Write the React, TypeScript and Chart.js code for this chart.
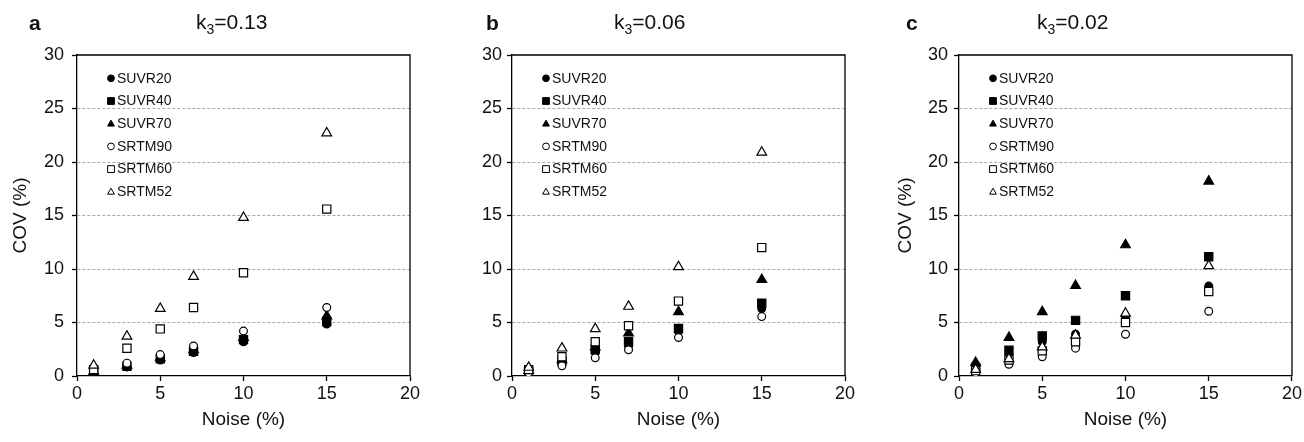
import React, { useEffect, useRef } from 'react';
import { Chart, registerables } from 'chart.js';

Chart.register(...registerables);

// ---------- data ----------
const noiseLevels = [1, 3, 5, 7, 10, 15];
const seriesNames = ['SUVR20', 'SUVR40', 'SUVR70', 'SRTM90', 'SRTM60', 'SRTM52'];
const xTicks = [0, 5, 10, 15, 20];
const yTicks = [0, 5, 10, 15, 20, 25, 30];

// panel a: k3 = 0.13
const a_SUVR20 = [0.3, 0.85, 1.5, 2.2, 3.2, 4.85];
const a_SUVR40 = [0.35, 0.9, 1.6, 2.3, 3.4, 5.1];
const a_SUVR70 = [0.4, 1.0, 1.7, 2.45, 3.6, 5.6];
const a_SRTM90 = [0.5, 1.2, 2.0, 2.8, 4.2, 6.4];
const a_SRTM60 = [0.6, 2.6, 4.4, 6.4, 9.65, 15.6];
const a_SRTM52 = [1.0, 3.7, 6.3, 9.3, 14.8, 22.7];

// panel b: k3 = 0.06
const b_SUVR20 = [0.35, 1.3, 2.2, 2.8, 4.15, 6.3];
const b_SUVR40 = [0.4, 1.4, 2.5, 3.2, 4.45, 6.8];
const b_SUVR70 = [0.5, 1.5, 2.7, 4.0, 6.0, 9.0];
const b_SRTM90 = [0.3, 0.95, 1.7, 2.45, 3.6, 5.55];
const b_SRTM60 = [0.6, 1.8, 3.2, 4.7, 7.0, 12.0];
const b_SRTM52 = [0.8, 2.6, 4.4, 6.5, 10.2, 20.9];

// panel c: k3 = 0.02
const c_SUVR20 = [0.4, 2.0, 3.2, 3.9, 5.5, 8.4];
const c_SUVR40 = [0.8, 2.4, 3.75, 5.2, 7.5, 11.15];
const c_SUVR70 = [1.25, 3.6, 6.0, 8.45, 12.25, 18.2];
const c_SRTM90 = [0.3, 1.1, 1.8, 2.6, 3.9, 6.05];
const c_SRTM60 = [0.5, 1.5, 2.35, 3.2, 5.0, 7.9];
const c_SRTM52 = [0.6, 1.6, 2.7, 3.8, 5.85, 10.3];

// ---------- styles ----------
const FONT = '"Liberation Sans", Arial, Helvetica, sans-serif';
const markerStyles = ['circle', 'rect', 'triangle', 'circle', 'rect', 'triangle'];
const markerFilled = [true, true, true, false, false, false];
const markerRadius: Record<string, number> = { circle: 3.9, rect: 5.8, triangle: 5.6 };

type Panel = {
  letter: string;
  k3: string;
  left: number;
  width: number;
  yAxisWidth: number;
  showYTitle: boolean;
  yTitlePad: number;
  tickPad: number;
  padRight: number;
  letterX: number;
  titleX: number;
  series: number[][];
};

const panels: Panel[] = [
  {
    letter: 'a', k3: '0.13', left: 0, width: 430, yAxisWidth: 77, showYTitle: true, yTitlePad: 9,
    tickPad: 8, padRight: 20, letterX: 29, titleX: 196,
    series: [a_SUVR20, a_SUVR40, a_SUVR70, a_SRTM90, a_SRTM60, a_SRTM52],
  },
  {
    letter: 'b', k3: '0.06', left: 430, width: 430, yAxisWidth: 82, showYTitle: false, yTitlePad: 0,
    tickPad: 5, padRight: 15, letterX: 56, titleX: 184,
    series: [b_SUVR20, b_SUVR40, b_SUVR70, b_SRTM90, b_SRTM60, b_SRTM52],
  },
  {
    letter: 'c', k3: '0.02', left: 860, width: 444, yAxisWidth: 99, showYTitle: true, yTitlePad: 34,
    tickPad: 6, padRight: 11, letterX: 46, titleX: 177,
    series: [c_SUVR20, c_SUVR40, c_SUVR70, c_SRTM90, c_SRTM60, c_SRTM52],
  },
];

function drawMarker(ctx: CanvasRenderingContext2D, style: string, filled: boolean, x: number, y: number, s: number) {
  ctx.save();
  ctx.beginPath();
  if (style === 'circle') {
    ctx.arc(x, y, s * 0.5, 0, Math.PI * 2);
  } else if (style === 'rect') {
    ctx.rect(x - s * 0.5, y - s * 0.5, s, s);
  } else {
    const h = s * 0.87;
    ctx.moveTo(x, y - h * 0.6);
    ctx.lineTo(x + s * 0.5, y + h * 0.4);
    ctx.lineTo(x - s * 0.5, y + h * 0.4);
    ctx.closePath();
  }
  ctx.fillStyle = filled ? '#000' : '#fff';
  ctx.fill();
  ctx.lineWidth = 1;
  ctx.strokeStyle = '#000';
  ctx.stroke();
  ctx.restore();
}

const decorPlugin = {
  id: 'decor',
  afterDraw(chart: any, _args: any, opts: any) {
    const ctx: CanvasRenderingContext2D = chart.ctx;
    const { left, top, right, bottom } = chart.chartArea;
    // top and right frame
    ctx.save();
    ctx.strokeStyle = '#000';
    ctx.lineWidth = 1.3;
    ctx.beginPath();
    ctx.moveTo(left, top);
    ctx.lineTo(right, top);
    ctx.lineTo(right, bottom);
    ctx.stroke();
    ctx.restore();

    // legend
    ctx.save();
    ctx.font = `14px ${FONT}`;
    ctx.fillStyle = '#111';
    ctx.textBaseline = 'middle';
    ctx.textAlign = 'left';
    seriesNames.forEach((name, i) => {
      const y = top + 23.3 + i * 22.7;
      drawMarker(ctx, markerStyles[i], markerFilled[i], left + 34, y, 6.8);
      ctx.fillText(name, left + 40, y + 0.5);
    });
    ctx.restore();

    // panel letter and title
    ctx.save();
    ctx.fillStyle = '#111';
    ctx.textBaseline = 'alphabetic';
    ctx.textAlign = 'left';
    ctx.font = `bold 21px ${FONT}`;
    ctx.fillText(opts.letter, opts.letterX, 30);
    let x = opts.titleX;
    ctx.font = `21px ${FONT}`;
    ctx.fillText('k', x, 29);
    x += ctx.measureText('k').width;
    ctx.font = `14px ${FONT}`;
    ctx.fillText('3', x, 34);
    x += ctx.measureText('3').width;
    ctx.font = `21px ${FONT}`;
    ctx.fillText('=' + opts.k3, x, 29);
    ctx.restore();
  },
};

function PanelChart({ p }: { p: Panel }) {
  const ref = useRef<HTMLCanvasElement | null>(null);
  useEffect(() => {
    if (!ref.current) return;
    const datasets = seriesNames.map((name, i) => ({
      label: name,
      data: noiseLevels.map((n, j) => ({ x: n, y: p.series[i][j] })),
      showLine: false,
      pointStyle: markerStyles[i],
      pointRadius: markerRadius[markerStyles[i]],
      pointHoverRadius: markerRadius[markerStyles[i]],
      pointBackgroundColor: markerFilled[i] ? '#000' : '#fff',
      pointBorderColor: '#000',
      pointBorderWidth: 1.2,
      order: seriesNames.length - i,
    }));
    const chart = new Chart(ref.current, {
      type: 'scatter',
      data: { datasets },
      plugins: [decorPlugin],
      options: {
        responsive: false,
        animation: false,
        layout: { padding: { left: 0, top: 55, right: p.padRight, bottom: 0 } },
        plugins: {
          legend: { display: false },
          tooltip: { enabled: false },
          decor: { letter: p.letter, k3: p.k3, letterX: p.letterX, titleX: p.titleX },
        } as any,
        scales: {
          x: {
            type: 'linear',
            min: 0,
            max: 20,
            afterFit: (s: any) => { s.height = 66; },
            afterBuildTicks: (s: any) => { s.ticks = xTicks.map((v) => ({ value: v })); },
            ticks: { color: '#111', font: { size: 18, family: FONT }, padding: 2, maxRotation: 0 },
            grid: {
              drawOnChartArea: false,
              drawTicks: true,
              tickLength: 5,
              tickColor: '#000',
              tickWidth: 1.3,
              tickBorderDash: [],
            },
            border: { display: true, color: '#000', width: 1.3 },
            title: {
              display: true,
              text: 'Noise (%)',
              color: '#111',
              font: { size: 19, family: FONT },
              padding: { top: 0, bottom: 11 },
            },
          },
          y: {
            type: 'linear',
            min: 0,
            max: 30,
            afterFit: (s: any) => { s.width = p.yAxisWidth; },
            afterBuildTicks: (s: any) => { s.ticks = yTicks.map((v) => ({ value: v })); },
            ticks: { color: '#111', font: { size: 18, family: FONT }, padding: p.tickPad },
            grid: {
              drawOnChartArea: true,
              drawTicks: true,
              tickLength: 5,
              color: (c: any) => (c.tick && (c.tick.value === 0 || c.tick.value === 30) ? 'rgba(0,0,0,0)' : '#a8a8a8'),
              lineWidth: 1,
              tickColor: '#000',
              tickWidth: 1.3,
              tickBorderDash: [],
            },
            border: { display: true, color: '#000', width: 1.3, dash: [3, 2] },
            title: {
              display: p.showYTitle,
              text: 'COV (%)',
              color: '#111',
              font: { size: 19, family: FONT },
              padding: { top: p.yTitlePad, bottom: 0 },
            },
          },
        },
      } as any,
    });
    return () => chart.destroy();
  }, [p]);
  return (
    <canvas
      ref={ref}
      width={p.width}
      height={442}
      style={{ position: 'absolute', left: p.left, top: 0, width: p.width, height: 442, display: 'block' }}
    />
  );
}

export default function App() {
  return (
    <div style={{ position: 'absolute', left: 0, top: 0, width: 1304, height: 442, background: '#fff', overflow: 'hidden' }}>
      {panels.map((p) => (
        <PanelChart key={p.letter} p={p} />
      ))}
    </div>
  );
}
